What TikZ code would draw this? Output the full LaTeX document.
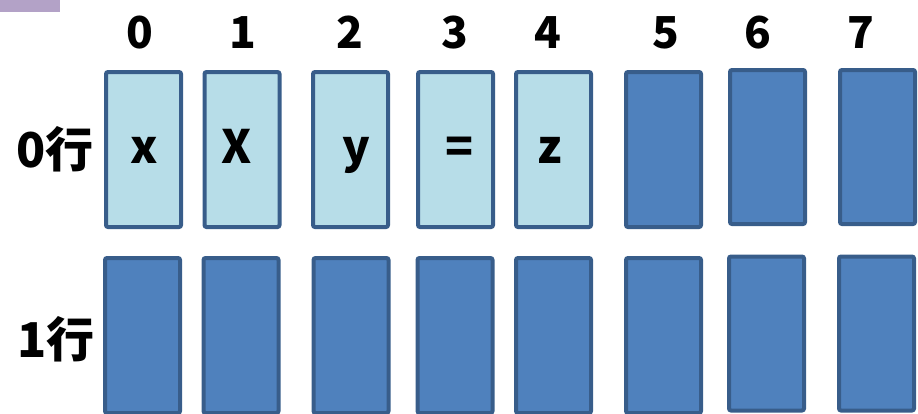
\documentclass[tikz,border=0pt]{standalone}
\usepackage{fontspec}
\setmainfont{Noto Sans CJK SC}
\definecolor{cellline}{HTML}{385D8A}
\definecolor{cellfill}{HTML}{4F81BD}
\definecolor{usedfill}{HTML}{B7DDE8}
\definecolor{tagfill}{HTML}{B3A2C7}
\tikzset{
  cell/.style={draw=cellline, line width=4pt, rounded corners=2pt, fill=cellfill,
    minimum width=75pt, minimum height=155pt, inner sep=0pt, outer sep=0pt},
  used/.style={cell, fill=usedfill},
  colnum/.style={font=\bfseries\fontsize{44}{44}\selectfont, inner sep=0pt, anchor=base},
  rowname/.style={font=\bfseries\fontsize{48}{48}\selectfont, inner sep=0pt, anchor=base},
  glyph/.style={font=\bfseries\fontsize{46}{46}\selectfont, inner sep=0pt, anchor=base}
}
\begin{document}
\begin{tikzpicture}[x=1pt, y=-1pt]
\useasboundingbox (0,0) rectangle (918,413);
\fill[tagfill] (0,0) rectangle (60,12);
% column indices
\node[colnum] (n0) at (140,48) {0};
\node[colnum] (n1) at (243,48) {1};
\node[colnum] (n2) at (350,48) {2};
\node[colnum] (n3) at (455,48) {3};
\node[colnum] (n4) at (548,48) {4};
\node[colnum] (n5) at (666,48) {5};
\node[colnum] (n6) at (758,48) {6};
\node[colnum] (n7) at (861,48) {7};
% row names
\node[rowname] (r0) at (55,167) {0行};
\node[rowname] (r1) at (56,357) {1行};
% row 0
\node[used] (a0) at (143.5,149.5) {};
\node[used] (a1) at (242,149.5) {};
\node[used] (a2) at (350.5,149.5) {};
\node[used] (a3) at (455.5,149.5) {};
\node[used] (a4) at (553.5,149.5) {};
\node[cell] (a5) at (663.5,149.5) {};
\node[cell, minimum height=154pt] (a6) at (767.5,147) {};
\node[cell, minimum height=154pt] (a7) at (877.5,147) {};
% row 1
\node[cell] (b0) at (142.5,335.5) {};
\node[cell] (b1) at (241,335.5) {};
\node[cell] (b2) at (351,335.5) {};
\node[cell] (b3) at (455,335.5) {};
\node[cell] (b4) at (553.5,335.5) {};
\node[cell] (b5) at (663.5,335.5) {};
\node[cell, minimum height=154pt] (b6) at (766.5,333.5) {};
\node[cell, minimum height=154pt] (b7) at (876.5,333.5) {};
% characters stored in row 0
\node[glyph] (t0) at (144.5,163) {x};
\node[glyph] (t1) at (237,163) {X};
\node[glyph] (t2) at (356,163) {y};
\node[glyph] (t3) at (460,163) {=};
\node[glyph] (t4) at (550,163) {z};
\end{tikzpicture}
\end{document}
